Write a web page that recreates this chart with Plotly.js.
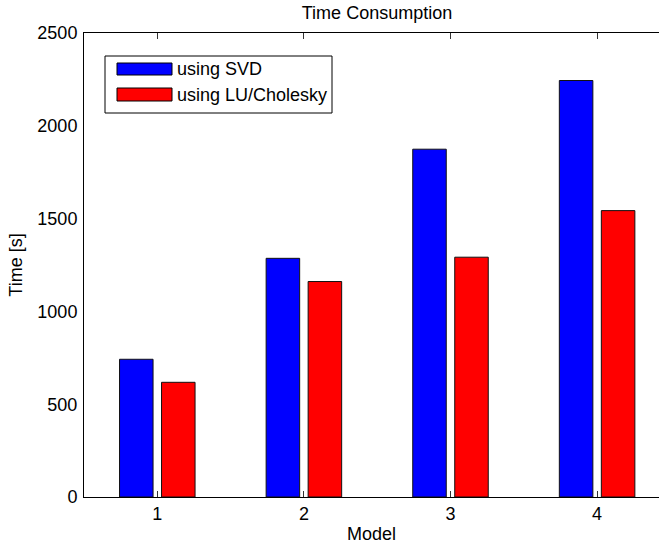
<!DOCTYPE html>
<html>
<head>
<meta charset="utf-8">
<script src="https://cdn.plot.ly/plotly-3.0.1.min.js"></script>
<style>html,body{margin:0;padding:0;background:#fff;}#chart{width:659px;height:548px;}</style>
</head>
<body>
<div id="chart"></div>
<script>
const models = [1, 2, 3, 4];
const seriesNames = ['using SVD', 'using LU/Cholesky'];
const svdTimes = [742, 1286, 1874, 2244];
const luTimes = [618, 1161, 1292, 1543];
const yTicks = [0, 500, 1000, 1500, 2000, 2500];

const FONT = 'Liberation Sans, Arial, Helvetica, sans-serif';
const FS = 18;
const colors = ['#0000ff', '#ff0000'];

const traces = [svdTimes, luTimes].map((vals, i) => ({
  type: 'bar',
  x: models,
  y: vals,
  name: seriesNames[i],
  marker: {color: colors[i], line: {color: '#111111', width: 1}},
  showlegend: false,
  hoverinfo: 'x+y'
}));

// legend drawn in paper coordinates (plot area: x 84..659, y 33..497)
const px = v => (v - 84) / 575;
const py = v => (497 - v) / 464;
const shapes = [
  {type: 'rect', xref: 'paper', yref: 'paper', x0: px(105), x1: px(332), y0: py(113), y1: py(56),
   line: {color: '#000', width: 1}, fillcolor: '#fff'},
  {type: 'rect', xref: 'paper', yref: 'paper', x0: px(117), x1: px(172), y0: py(75), y1: py(63),
   line: {color: '#000', width: 1}, fillcolor: colors[0]},
  {type: 'rect', xref: 'paper', yref: 'paper', x0: px(117), x1: px(172), y0: py(101), y1: py(88),
   line: {color: '#000', width: 1}, fillcolor: colors[1]}
];
const annotations = [
  {xref: 'paper', yref: 'paper', x: px(175), y: py(69), xanchor: 'left', yanchor: 'middle',
   text: seriesNames[0], showarrow: false, font: {family: FONT, size: FS, color: '#000'}},
  {xref: 'paper', yref: 'paper', x: px(175), y: py(94.5), xanchor: 'left', yanchor: 'middle',
   text: seriesNames[1], showarrow: false, font: {family: FONT, size: FS, color: '#000'}}
];

const layout = {
  width: 659, height: 548,
  margin: {l: 84, r: 0, t: 33, b: 51, pad: 0},
  paper_bgcolor: '#fff', plot_bgcolor: '#fff',
  font: {family: FONT, size: FS, color: '#000'},
  title: {text: 'Time Consumption', x: (377 / 659), xanchor: 'center', y: 1 - 13 / 548, yanchor: 'middle',
          font: {family: FONT, size: FS, color: '#000'}},
  barmode: 'group',
  bargap: 0.427,
  bargroupgap: 0.202,
  xaxis: {
    range: [0.5, 0.5 + 575 / 146.6],
    tickvals: models, ticktext: models.map(String),
    ticks: 'inside', ticklen: 6, tickwidth: 1, tickcolor: '#333',
    showline: true, linecolor: '#000', linewidth: 1, mirror: 'ticks',
    showgrid: false, zeroline: false,
    ticklabelstandoff: 0,
    title: {text: 'Model', standoff: 4, font: {family: FONT, size: FS, color: '#000'}}
  },
  yaxis: {
    range: [0, 2500],
    tickvals: yTicks, ticktext: yTicks.map(String),
    ticks: '', showline: true, linecolor: '#000', linewidth: 1, mirror: false,
    showgrid: false, zeroline: false,
    ticklabelstandoff: 2,
    title: {text: 'Time [s]', standoff: 10, font: {family: FONT, size: FS, color: '#000'}}
  },
  shapes: shapes,
  annotations: annotations
};

Plotly.newPlot('chart', traces, layout, {displayModeBar: false, staticPlot: true});
</script>
</body>
</html>
